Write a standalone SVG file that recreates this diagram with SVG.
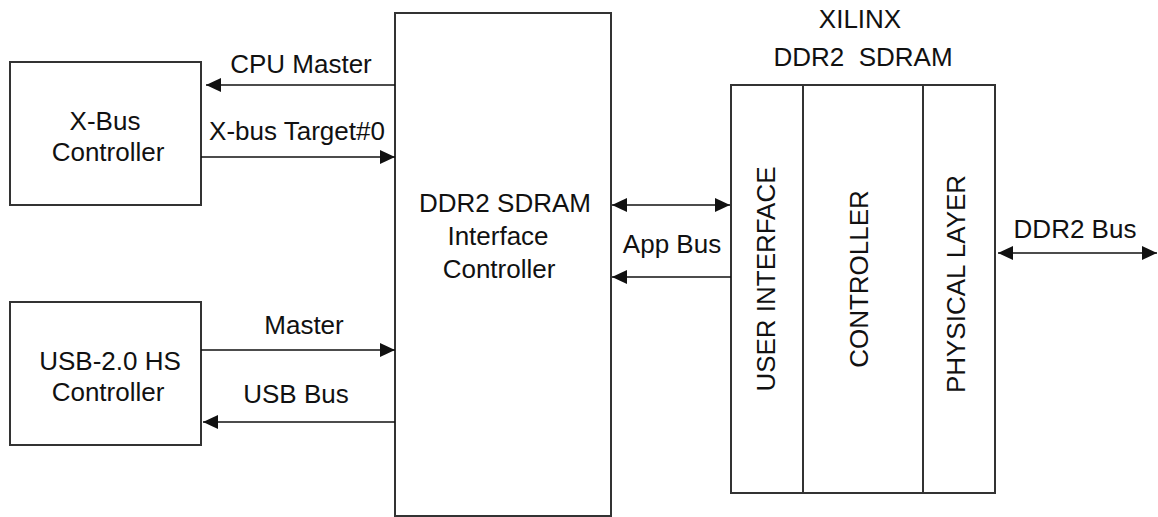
<svg xmlns="http://www.w3.org/2000/svg" width="1158" height="517" viewBox="0 0 1158 517">
  <style>
    .box { fill: #ffffff; stroke: #333333; stroke-width: 2; }
    .div { fill: none; stroke: #333333; stroke-width: 2; }
    .lbl { font-family: "Liberation Sans", Arial, sans-serif; font-size: 26px; fill: #111111; }
    .mid { text-anchor: middle; }
    .wire { fill: none; stroke: #111111; stroke-width: 1.6; }
  </style>
  <defs>
    <marker id="head" markerUnits="userSpaceOnUse" markerWidth="16" markerHeight="14" refX="15" refY="7" orient="auto-start-reverse">
      <path d="M0,0 L15,7 L0,14 Z" fill="#111111"/>
    </marker>
  </defs>

  <rect width="1158" height="517" fill="#ffffff"/>

  <!-- X-Bus controller -->
  <g id="xbus">
    <rect class="box" x="10" y="62" width="191" height="143"/>
    <text class="lbl mid" x="105" y="130">X-Bus</text>
    <text class="lbl mid" x="108" y="161">Controller</text>
  </g>

  <!-- USB controller -->
  <g id="usb">
    <rect class="box" x="10" y="302" width="191" height="143"/>
    <text class="lbl mid" x="110" y="370">USB-2.0 HS</text>
    <text class="lbl mid" x="108" y="401">Controller</text>
  </g>

  <!-- DDR2 SDRAM interface controller -->
  <g id="ifctrl">
    <rect class="box" x="395" y="13" width="216" height="503"/>
    <text class="lbl mid" x="505" y="212">DDR2 SDRAM</text>
    <text class="lbl mid" x="498" y="245">Interface</text>
    <text class="lbl mid" x="499" y="278">Controller</text>
  </g>

  <!-- Xilinx DDR2 SDRAM core -->
  <g id="xilinx">
    <text class="lbl mid" x="860" y="28">XILINX</text>
    <text class="lbl mid" x="863" y="66" xml:space="preserve">DDR2  SDRAM</text>
    <rect class="box" x="731" y="85" width="264" height="408"/>
    <line class="div" x1="803" y1="85" x2="803" y2="493"/>
    <line class="div" x1="923" y1="85" x2="923" y2="493"/>
    <text class="lbl mid" transform="translate(775,279) rotate(-90)" textLength="225" lengthAdjust="spacingAndGlyphs">USER INTERFACE</text>
    <text class="lbl mid" transform="translate(868,279) rotate(-90)">CONTROLLER</text>
    <text class="lbl mid" transform="translate(965,284) rotate(-90)">PHYSICAL LAYER</text>
  </g>

  <!-- connectors -->
  <g id="connectors">
    <line class="wire" x1="395" y1="85" x2="206" y2="85" marker-end="url(#head)"/>
    <line class="wire" x1="201" y1="157" x2="395" y2="157" marker-end="url(#head)"/>
    <line class="wire" x1="201" y1="350" x2="395" y2="350" marker-end="url(#head)"/>
    <line class="wire" x1="395" y1="422" x2="203" y2="422" marker-end="url(#head)"/>
    <line class="wire" x1="612" y1="205" x2="730" y2="205" marker-start="url(#head)" marker-end="url(#head)"/>
    <line class="wire" x1="731" y1="277" x2="612" y2="277" marker-end="url(#head)"/>
    <line class="wire" x1="998" y1="253" x2="1157" y2="253" marker-start="url(#head)" marker-end="url(#head)"/>
  </g>

  <!-- connector labels -->
  <g id="labels">
    <text class="lbl mid" x="301" y="73">CPU Master</text>
    <text class="lbl mid" x="297" y="140">X-bus Target#0</text>
    <text class="lbl mid" x="304" y="334">Master</text>
    <text class="lbl mid" x="296" y="403">USB Bus</text>
    <text class="lbl mid" x="672" y="253">App Bus</text>
    <text class="lbl mid" x="1075" y="238">DDR2 Bus</text>
  </g>
</svg>
